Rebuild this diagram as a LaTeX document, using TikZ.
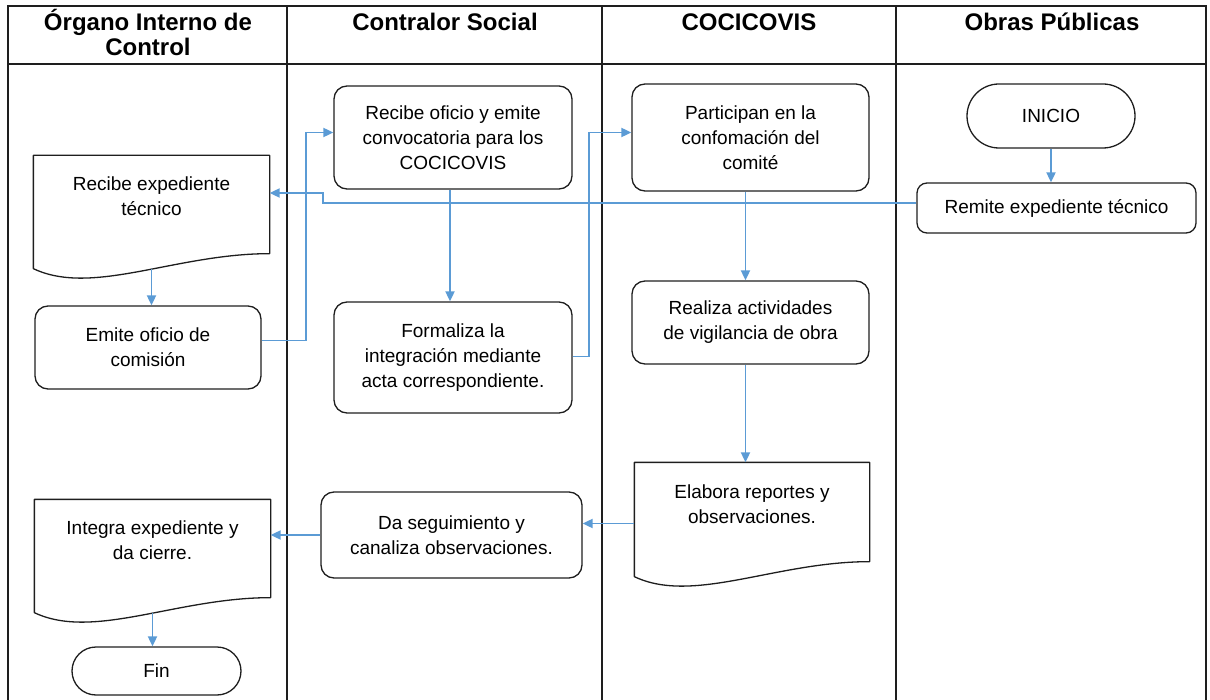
\documentclass[tikz,border=0pt]{standalone}
\usepackage{fontspec}
\setmainfont{Liberation Sans}
\usepackage{tikz}
\usetikzlibrary{arrows.meta,calc}
\definecolor{flowblue}{HTML}{5B9BD5}
\definecolor{ink}{HTML}{1E1E1E}
\tikzset{
  lane/.style={draw=ink, line width=1.6pt},
  hdr/.style={font=\fontsize{24}{25}\selectfont\bfseries, align=center, inner sep=0pt},
  box/.style={draw=ink, line width=1.3pt, rectangle, align=center, inner sep=0pt, font=\fontsize{19}{25}\selectfont},
  proc/.style={box, rounded corners=13pt},
  term/.style={box, rounded corners=24pt},
  doc/.style={box, draw=none, minimum width=235pt, minimum height=112pt, text depth=31pt},
  docline/.style={draw=ink, line width=1.3pt, line join=round},
  arr/.style={-{Triangle[length=10pt,width=9pt]}, color=flowblue, line width=1.9pt}
}
\newcommand\docoutline[1]{%
  \draw[docline] (#1.south west) -- (#1.north west) -- (#1.north east) -- ([yshift=15pt]#1.south east)
    .. controls ($(#1.south west)!0.6!(#1.south east)+(0,-15)$) and ($(#1.south west)!0.25!(#1.south east)+(0,28)$) .. (#1.south west) -- cycle;}

\begin{document}
\begin{tikzpicture}[x=1pt,y=-1pt]
\useasboundingbox (0,0) rectangle (1210,700);
\draw[lane] (8,700) -- (8,6) -- (1206,6) -- (1206,700);
\draw[lane] (8,64) -- (1206,64);
\foreach \x in {287,602,896} \draw[lane] (\x,6) -- (\x,700);
\node[hdr] (h1) at (148,32) {Órgano Interno de\\Control};
\node[hdr] (h2) at (445,22) {Contralor Social};
\node[hdr] (h3) at (749,22) {COCICOVIS};
\node[hdr] (h4) at (1052,22) {Obras Públicas};

\node[term, minimum width=168pt, minimum height=64pt, rounded corners=32pt] (ini) at (1051,116) {INICIO};
\node[proc, minimum width=279pt, minimum height=50pt, rounded corners=10pt] (rm) at (1056.5,208) {Remite expediente técnico};
\node[doc] (rx) at (151.5,212) {Recibe expediente\\técnico};
\node[proc, minimum width=226pt, minimum height=83pt] (em) at (148,347.5) {Emite oficio de\\comisión};
\node[proc, minimum width=238pt, minimum height=103pt] (ro) at (453,137.5) {Recibe oficio y emite\\convocatoria para los\\COCICOVIS};
\node[proc, minimum width=238pt, minimum height=111pt] (fo) at (453,357.5) {Formaliza la\\integración mediante\\acta correspondiente.};
\node[proc, minimum width=237pt, minimum height=107pt] (pa) at (750.5,137.5) {Participan en la\\confomación del\\comité};
\node[proc, minimum width=237pt, minimum height=83pt] (re) at (750.5,322.5) {Realiza actividades\\de vigilancia de obra};
\node[doc, minimum width=234pt, minimum height=113pt] (el) at (752,519.5) {Elabora reportes y\\observaciones.};
\node[proc, minimum width=261pt, minimum height=86pt] (da) at (451.5,535) {Da seguimiento y\\canaliza observaciones.};
\node[doc] (ig) at (152.5,556) {Integra expediente y\\da cierre.};
\node[term, minimum width=169pt, minimum height=48pt] (fin) at (156.5,671) {Fin};
\foreach \d in {rx,el,ig} \docoutline{\d};

\draw[arr] (ini.south) -- (ini.south |- rm.north);
\draw[arr] ([yshift=5pt]rm.west) -- (323,203) |- ([yshift=19pt]rx.east);
\draw[arr] (rx.south) -- (rx.south |- em.north);
\draw[arr] ([yshift=7pt]em.east) -- ++(44,0) |- ([yshift=5pt]ro.west);
\draw[arr] ([xshift=-3pt]ro.south) -- ([xshift=-3pt]fo.north);
\draw[arr] ([yshift=1pt]fo.east) -- ++(16,0) |- ([yshift=5pt]pa.west);
\draw[arr] ([xshift=-5pt]pa.south) -- ([xshift=-5pt]re.north);
\draw[arr] ([xshift=-5pt]re.south) -- ([xshift=-5pt]re.south |- el.north);
\draw[arr] ([yshift=-4pt]el.west) -- ([yshift=-4pt]el.west -| da.east);
\draw[arr] (da.west) -- (da.west -| ig.east);
\draw[arr] (ig.south) -- (ig.south |- fin.north);
\end{tikzpicture}
\end{document}
